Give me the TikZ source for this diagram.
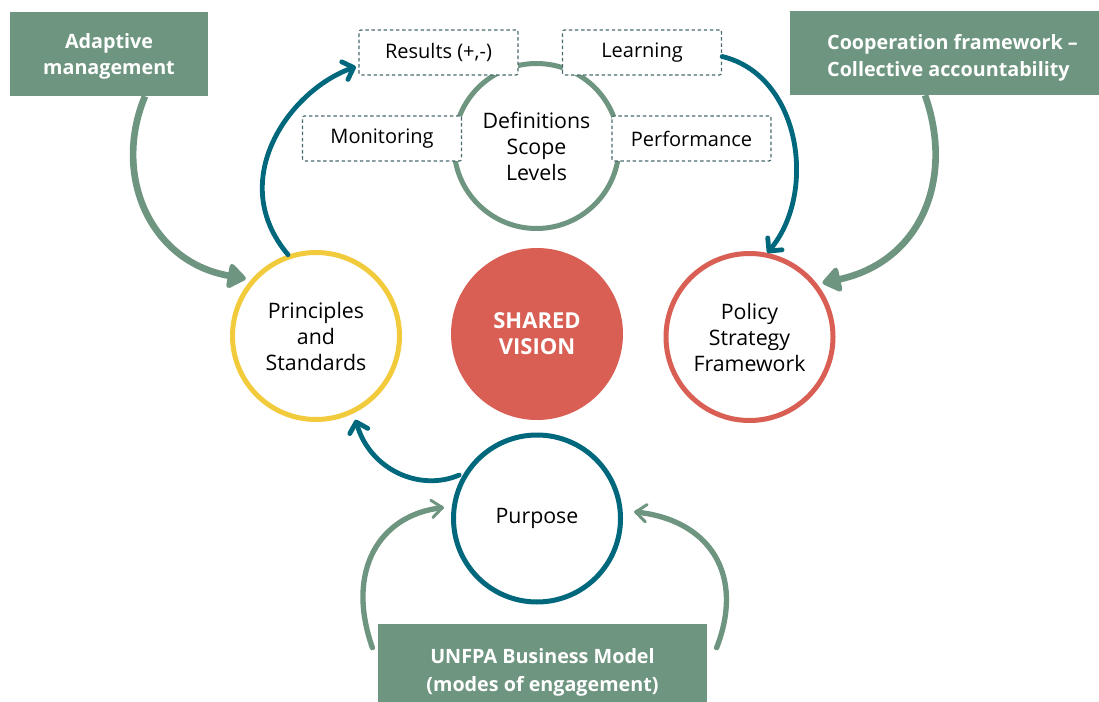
\documentclass[tikz,border=0pt]{standalone}
\usepackage{fontspec}
\setmainfont{Open Sans}
\usetikzlibrary{arrows.meta}
\definecolor{boxgreen}{RGB}{110,149,128}
\definecolor{tealc}{RGB}{0,104,125}
\definecolor{yellowc}{RGB}{242,203,60}
\definecolor{redc}{RGB}{217,95,84}
\definecolor{dashc}{RGB}{74,107,110}
\begin{document}
\begin{tikzpicture}[x=0.75pt,y=-0.75pt,
  greenbox/.style={fill=boxgreen, text=white, inner sep=0pt, align=center,
    font=\bfseries\fontsize{14.8}{19.8}\selectfont},
  dbox/.style={draw=dashc, fill=white, line width=0.9pt, dash pattern=on 2.6pt off 2pt,
    rounded corners=1.5pt, minimum width=119.25pt, minimum height=33.75pt, inner sep=0pt,
    font=\fontsize{15}{19.5}\selectfont},
  ring/.style={circle, line width=3.75pt, minimum size=125.25pt, inner sep=0pt, align=center,
    font=\fontsize{16}{19.5}\selectfont},
  garrow/.style={draw=boxgreen, line width=5pt, -{Triangle[round,length=15pt,width=21pt]}},
  tarrow/.style={draw=tealc, line width=3.6pt, line cap=round, -{Straight Barb[round,length=7pt,width=14pt]}},
  barrow/.style={draw=boxgreen, line width=4pt, line cap=round, -{Straight Barb[round,length=8pt,width=13pt,line width=2.2pt]}}
]
\useasboundingbox (0,0) rectangle (1099,702);

% central top circle and dashed boxes
\node[ring, draw=boxgreen, minimum size=123.75pt] (defs) at (536.5,146) {Definitions\\Scope\\Levels};
\node[dbox] (results) at (438.5,52.5) {Results (+,-)};
\node[dbox] (learning) at (642,52.5) {Learning};
\node[dbox] (monitoring) at (382,138.5) {Monitoring};
\node[dbox] (performance) at (691.5,138.5) {Performance};

% main circles
\node[ring, draw=yellowc] (princ) at (316,336) {Principles\\and\\Standards};
\node[circle, fill=redc, minimum size=129pt, inner sep=0pt, align=center, text=white,
  font=\bfseries\fontsize{16.5}{19.5}\selectfont] (vision) at (537,334) {SHARED\\VISION};
\node[ring, draw=redc] (policy) at (749.5,337) {Policy\\Strategy\\Framework};
\node[ring, draw=tealc] (purpose) at (537,518.5) {Purpose};

% green boxes
\node[greenbox, minimum width=148.5pt, minimum height=63pt] (adapt) at (109,54)
  {\rule{0pt}{15.2pt}Adaptive\\management};
\node[greenbox, align=left, minimum width=231.75pt, minimum height=63pt] (coop) at (944.5,53)
  {\rule{0pt}{18.7pt}\hspace*{12pt}Cooperation framework –\\\hspace*{12pt}Collective accountability};
\node[greenbox, minimum width=246.75pt, minimum height=58.5pt, font=\bfseries\fontsize{14.8}{21}\selectfont] (unfpa) at (542.5,663)
  {\rule{0pt}{24.7pt}UNFPA Business Model\\(modes of engagement)};

% arrows
\draw[garrow, shorten >=4pt] ([xshift=27pt]adapt.south) .. controls (112,175) and (150,262) .. (princ.139);
\draw[garrow, shorten >=4pt] ([xshift=-14.6pt]coop.south) .. controls (955,180) and (920,262) .. (policy.38);
\draw[tarrow, shorten >=2pt] (princ.109) .. controls (225,180) and (290,90) .. ([yshift=-10pt]results.west);
\draw[tarrow] ([yshift=-3pt]learning.east) .. controls (800,75) and (818,192) .. (policy.78);
\draw[tarrow, shorten <=4pt, shorten >=5pt] (purpose.148) .. controls (420,492) and (370,470) .. (princ.-64);
\draw[barrow, shorten >=6pt] ([xshift=-4pt,yshift=-18pt]unfpa.north west) .. controls (345,570) and (380,515) .. (purpose.172);
\draw[barrow] ([xshift=7pt,yshift=-18pt]unfpa.north east) .. controls (745,575) and (710,520) .. ([xshift=9pt,yshift=-4pt]purpose.8);
\end{tikzpicture}
\end{document}
